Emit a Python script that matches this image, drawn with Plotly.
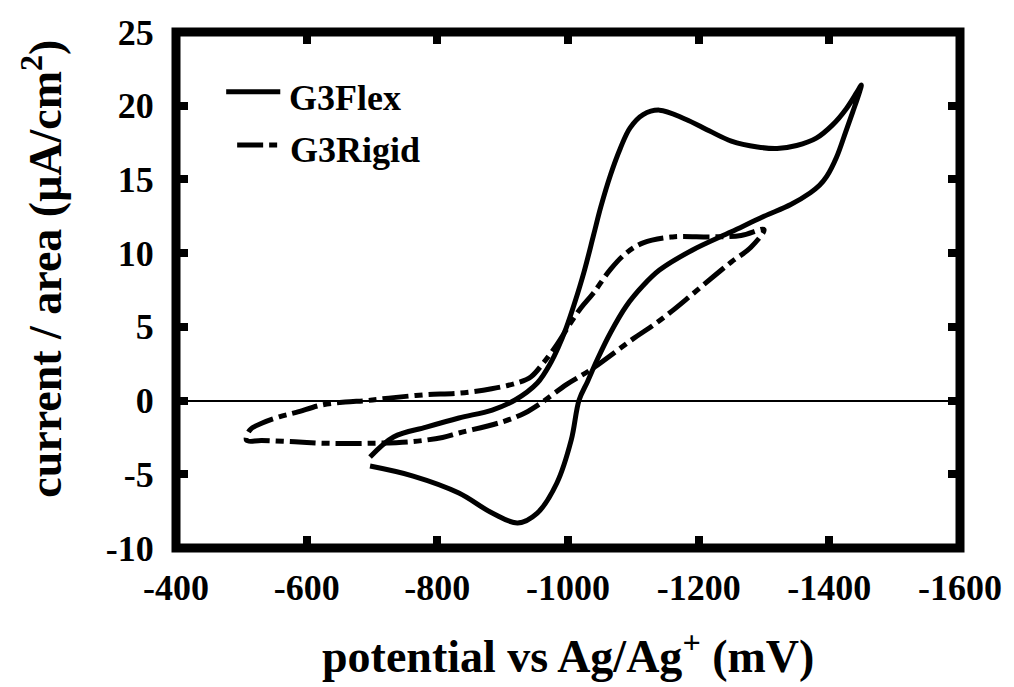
import plotly.graph_objects as go

# G3Flex: forward scan (from -700 mV) then return scan
flex_fwd_E = [-697, -733, -783, -833, -884, -919, -953, -974, -985, -997, -1010, -1025,
              -1039, -1050, -1065, -1080, -1095, -1115, -1140, -1179, -1216, -1250,
              -1290, -1320, -1350, -1380, -1405, -1426, -1442, -1449]
flex_fwd_I = [-3.83, -2.47, -1.80, -1.18, -0.64, 0.04, 1.19, 2.6, 3.6, 4.9, 6.6, 8.8,
              11.2, 13.1, 15.3, 17.1, 18.5, 19.4, 19.7, 19.1, 18.3, 17.6,
              17.2, 17.1, 17.3, 17.8, 18.7, 19.8, 20.9, 21.4]
flex_ret_E = [-1446, -1436, -1426, -1411, -1396, -1385, -1371, -1341, -1300, -1250,
              -1190, -1140, -1115, -1089, -1065, -1045, -1030, -1017, -1005, -983,
              -953, -923, -884, -833, -763, -697]
flex_ret_I = [20.9, 19.6, 18.35, 16.5, 15.2, 14.6, 14.1, 13.3, 12.5, 11.45,
              10.2, 8.85, 7.8, 6.4, 4.6, 2.8, 1.3, 0.04, -2.67, -5.59,
              -7.63, -8.30, -7.63, -6.27, -5.12, -4.44]

# G3Rigid: forward scan (from -508 mV) then return scan
rigid_fwd_E = [-508, -513, -533, -558, -584, -623, -659, -692, -733, -782, -832, -883,
               -922, -943, -963, -983, -1003, -1020, -1039, -1065, -1089, -1115,
               -1160, -1220, -1265, -1300]
rigid_fwd_I = [-2.7, -2.0, -1.5, -1.1, -0.8, -0.3, -0.1, 0.0, 0.2, 0.4, 0.5, 0.8,
               1.2, 1.6, 2.6, 3.8, 5.2, 6.3, 7.3, 8.9, 10.0, 10.7,
               11.1, 11.1, 11.2, 11.6]
rigid_ret_E = [-1280, -1250, -1225, -1190, -1160, -1130, -1100, -1035, -998, -959,
               -934, -899, -833, -808, -757, -692, -632, -582, -531, -508]
rigid_ret_I = [10.4, 9.4, 8.5, 7.2, 6.1, 5.1, 4.2, 2.1, 1.1, -0.16,
               -0.84, -1.45, -2.2, -2.5, -2.8, -2.9, -2.9, -2.8, -2.7, -2.7]

series_names = ["G3Flex", "G3Rigid"]
x_ticks = [-400, -600, -800, -1000, -1200, -1400, -1600]
x_tick_labels = ["-400", "-600", "-800", "-1000", "-1200", "-1400", "-1600"]
y_ticks = [-10, -5, 0, 5, 10, 15, 20, 25]
y_tick_labels = ["-10", "-5", "0", "5", "10", "15", "20", "25"]

FONT = "Liberation Serif"
RIGID_DASH = "26px,6px,8px,6px"

fig = go.Figure()
fig.add_trace(go.Scatter(
    x=flex_fwd_E + flex_ret_E, y=flex_fwd_I + flex_ret_I, mode="lines",
    name=series_names[0], showlegend=False,
    line=dict(color="black", width=5, shape="spline", smoothing=1.0)))
fig.add_trace(go.Scatter(
    x=rigid_fwd_E + rigid_ret_E, y=rigid_fwd_I + rigid_ret_I, mode="lines",
    name=series_names[1], showlegend=False,
    line=dict(color="black", width=5, dash=RIGID_DASH, shape="spline", smoothing=1.0)))

tickfont = dict(family=FONT, size=36, color="black", weight="bold")
axis_common = dict(
    ticks="inside", ticklen=12, tickwidth=8, tickcolor="black",
    mirror="ticks", showline=True, linewidth=1, linecolor="black",
    showgrid=False, tickfont=tickfont,
)

fig.update_layout(
    width=1014, height=687,
    margin=dict(l=176, r=42, t=32, b=139),
    paper_bgcolor="white", plot_bgcolor="white",
    font=dict(family=FONT, color="black"),
    xaxis=dict(range=[-400, -1600], tickvals=x_ticks, ticktext=x_tick_labels,
               zeroline=False, ticklabelstandoff=8, **axis_common),
    yaxis=dict(range=[-10, 25], tickvals=y_ticks, ticktext=y_tick_labels,
               zeroline=True, zerolinecolor="black", zerolinewidth=2,
               ticklabelstandoff=14, **axis_common),
    shapes=[
        dict(type="rect", xref="paper", yref="paper", x0=0, x1=1, y0=0, y1=1,
             line=dict(color="black", width=9), layer="above"),
        dict(type="line", xref="paper", yref="paper", x0=0.064, x1=0.133,
             y0=0.884, y1=0.884, line=dict(color="black", width=5)),
        dict(type="line", xref="paper", yref="paper", x0=0.078, x1=0.133,
             y0=0.781, y1=0.781, line=dict(color="black", width=5, dash=RIGID_DASH)),
    ],
    annotations=[
        dict(text=series_names[0], xref="paper", yref="paper", x=0.141, y=0.872,
             xanchor="left", yanchor="middle", showarrow=False,
             font=dict(family=FONT, size=36, color="black", weight="bold")),
        dict(text=series_names[1], xref="paper", yref="paper", x=0.143, y=0.771,
             xanchor="left", yanchor="middle", showarrow=False,
             font=dict(family=FONT, size=36, color="black", weight="bold")),
        dict(text="potential vs Ag/Ag<sup>+</sup> (mV)", xref="paper", yref="paper",
             x=0.5, y=-0.203, xanchor="center", yanchor="middle", showarrow=False,
             font=dict(family=FONT, size=46, color="black", weight="bold")),
        dict(text="current / area (μA/cm<sup>2</sup>)", xref="paper", yref="paper",
             x=-0.171, y=0.541, xanchor="center", yanchor="middle", showarrow=False,
             textangle=-90,
             font=dict(family=FONT, size=46, color="black", weight="bold")),
    ],
)

fig.write_html("out.html")
